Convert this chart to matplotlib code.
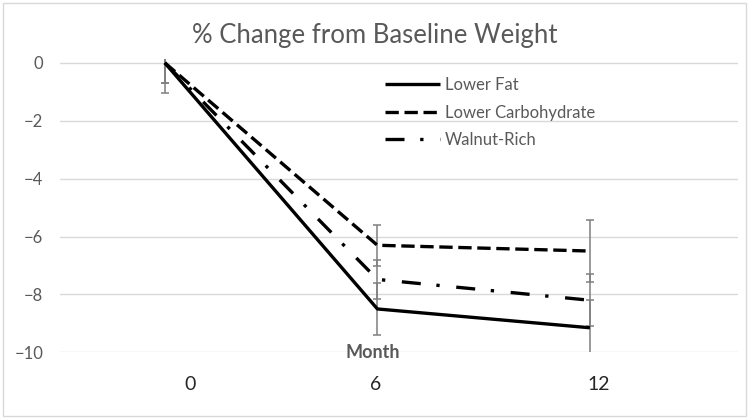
import matplotlib.pyplot as plt
from matplotlib.patches import Rectangle

# données
months = [0, 6, 12]
month_labels = ["0", "6", "12"]
lower_fat = [0, -8.5, -9.15]
lower_fat_err = [1.05, 0.9, 0.95]
lower_carb = [0, -6.3, -6.5]
lower_carb_err = [0.7, 0.7, 1.07]
walnut = [0, -7.48, -8.2]
walnut_err = [0.7, 0.68, 0.9]

# positions des étiquettes de l'axe X (décalées comme sur l'original)
label_pos = [0.7, 5.95, 12.25]

plt.rcParams['font.family'] = ['Lato', 'DejaVu Sans']
grey_txt = '#595959'

fig = plt.figure(figsize=(7.5, 4.18), dpi=100)
ax = fig.add_axes([60 / 750, 0.157, (738 - 60) / 750, 0.860 - 0.157])

series = [
    (lower_fat, lower_fat_err, 'Lower Fat', '-'),
    (lower_carb, lower_carb_err, 'Lower Carbohydrate', (0, (4, 1.7))),
    (walnut, walnut_err, 'Walnut-Rich', (0, (5.7, 4.7, 1, 5))),
]
for vals, err, name, ls in series:
    ax.errorbar(months, vals, yerr=err, fmt='none', ecolor='#7f7f7f',
                elinewidth=1.1, capsize=3.2, capthick=1.1, zorder=2)
    ax.plot(months, vals, color='black', linewidth=2.4, linestyle=ls,
            label=name, zorder=3, solid_capstyle='butt', dash_capstyle='butt')

ax.set_xlim(-2.96, 16.18)
ax.set_ylim(-10, 0.15)
ax.set_yticks([0, -2, -4, -6, -8, -10])
ax.set_xticks(label_pos)
ax.set_xticklabels(month_labels, fontsize=14, color='#262626')
ax.tick_params(axis='x', length=0, pad=17)
ax.tick_params(axis='y', length=0, pad=12, labelsize=12, labelcolor=grey_txt)
ax.grid(axis='y', color='#d9d9d9', linewidth=1)
ax.set_axisbelow(True)
for s in ax.spines.values():
    s.set_visible(False)

ax.text(0.461, 0, 'Month', transform=ax.transAxes, ha='center', va='center',
        fontsize=13, fontweight='bold', color=grey_txt)

fig.text(0.5, 1 - 43 / 418, '% Change from Baseline Weight', ha='center',
         va='baseline', fontsize=18.5, color=grey_txt)

fig.legend(loc='upper left', bbox_to_anchor=(385 / 750, 0.815), frameon=False,
           borderpad=0, borderaxespad=0, handlelength=3.3, handletextpad=0.3,
           labelspacing=0.69, prop={'size': 12}, labelcolor=grey_txt)

# bordure de la zone de graphique
fig.patches.append(Rectangle((3 / 750, 2 / 418), 743 / 750, 413 / 418,
                             transform=fig.transFigure, fill=False,
                             edgecolor='#d9d9d9', linewidth=1))

plt.savefig("out.png")
